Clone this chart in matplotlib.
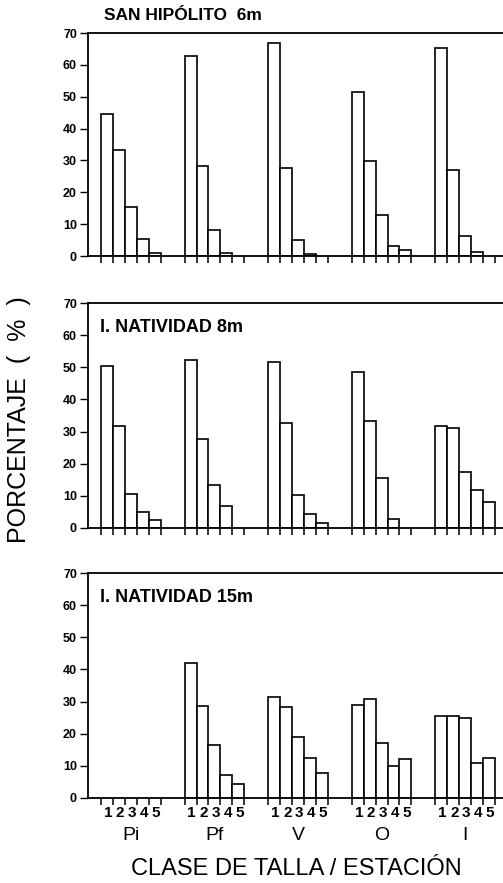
import numpy as np
import matplotlib
matplotlib.use("Agg")
import matplotlib.pyplot as plt

plt.rcParams['font.family'] = ['Liberation Sans', 'DejaVu Sans']

# estaciones y clases de talla
stations = ['Pi', 'Pf', 'V', 'O', 'I']
size_classes = ['1', '2', '3', '4', '5']

# porcentaje por clase de talla (1..5) para cada estacion
san_hipolito_6m = [
    [44.5, 33.3, 15.3, 5.2, 1.0],   # Pi
    [62.7, 28.4, 8.3, 1.0, 0.0],    # Pf
    [66.9, 27.5, 5.0, 0.6, 0.0],    # V
    [51.4, 29.8, 13.0, 3.2, 1.9],   # O
    [65.2, 26.9, 6.2, 1.4, 0.0],    # I
]
natividad_8m = [
    [50.5, 31.8, 10.7, 5.0, 2.6],
    [52.3, 27.8, 13.5, 6.9, 0.0],
    [51.6, 32.6, 10.4, 4.4, 1.6],
    [48.4, 33.4, 15.7, 2.8, 0.0],
    [31.8, 31.1, 17.4, 11.7, 8.1],
]
natividad_15m = [
    [0.0, 0.0, 0.0, 0.0, 0.0],
    [42.1, 28.7, 16.6, 7.1, 4.5],
    [31.5, 28.3, 19.1, 12.4, 7.7],
    [28.9, 30.8, 17.2, 10.1, 12.1],
    [25.4, 25.6, 24.9, 10.8, 12.5],
]
panel_titles = ['SAN HIPÓLITO  6m', 'I. NATIVIDAD 8m', 'I. NATIVIDAD 15m']
panels = [san_hipolito_6m, natividad_8m, natividad_15m]

W, H = 503, 883
fig = plt.figure(figsize=(W / 100, H / 100), dpi=100)

# posiciones de los paneles en pixeles (arriba, abajo)
boxes = [(33, 256), (303, 528), (573, 798)]
left_px = 88
group_step = 7

for i, (data, title) in enumerate(zip(panels, panel_titles)):
    top, bot = boxes[i]
    ax = fig.add_axes([left_px / W, 1 - bot / H, 1 - left_px / W, (bot - top) / H])
    for g, vals in enumerate(data):
        x = g * group_step + np.arange(5)
        v = np.array(vals)
        m = v > 0
        ax.bar(x[m], v[m], width=1.0, color='white', edgecolor='black', linewidth=1.2)
    ax.set_ylim(0, 70)
    ax.set_xlim(-1.59, 33.17)
    ax.set_yticks(np.arange(0, 71, 10))
    ax.tick_params(axis='y', direction='out', length=6, width=1, labelsize=9, pad=2)
    for lab in ax.get_yticklabels():
        lab.set_fontweight('bold')
    edges = [g * group_step + k - 0.5 for g in range(5) for k in range(6)]
    ax.set_xticks(edges)
    ax.set_xticklabels([])
    ax.tick_params(axis='x', direction='out', length=5, width=1.1)
    ax.spines['right'].set_visible(False)
    for s in ['left', 'top', 'bottom']:
        ax.spines[s].set_linewidth(1.3)

    if i == 0:
        fig.text(104 / W, 1 - 16 / H, title, fontsize=12.5,
                 fontweight='bold', va='center', ha='left')
    else:
        ax.text(0.03, 0.89, title, transform=ax.transAxes, fontsize=13,
                fontweight='bold', va='center', ha='left')

    if i == 2:
        for g, st in enumerate(stations):
            for k, c in enumerate(size_classes):
                ax.text(g * group_step + k + 0.1, -4.8, c, ha='center', va='center',
                        fontsize=11, fontweight='bold')
            ax.text(g * group_step + 2, -11.6, st, ha='center', va='center',
                    fontsize=14)

fig.text(296 / W, 1 - 869 / H, 'CLASE DE TALLA / ESTACIÓN',
         ha='center', va='center', fontsize=17)
fig.text(19 / W, 1 - 420 / H, 'PORCENTAJE  (  %  )', rotation=90,
         ha='center', va='center', fontsize=18)

fig.savefig('out.png', dpi=100)
